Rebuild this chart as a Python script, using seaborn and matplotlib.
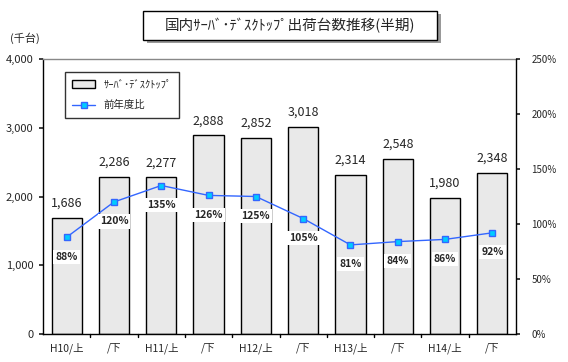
import matplotlib
matplotlib.use("Agg")
import matplotlib.pyplot as plt
import numpy as np
import pandas as pd
import seaborn as sns
from matplotlib.lines import Line2D
from matplotlib.patches import Patch, Rectangle

# データ
periods = ['H10/上', '/下', 'H11/上', '/下', 'H12/上', '/下', 'H13/上', '/下', 'H14/上', '/下']
shipments = [1686, 2286, 2277, 2888, 2852, 3018, 2314, 2548, 1980, 2348]
yoy_pct = [88, 120, 135, 126, 125, 105, 81, 84, 86, 92]

title_text = '国内ｻｰﾊﾞ･ﾃﾞｽｸﾄｯﾌﾟ出荷台数推移(半期)'
bar_label = 'ｻｰﾊﾞ･ﾃﾞｽｸﾄｯﾌﾟ'
line_label = '前年度比'

sns.set_theme(style='white')
plt.rcParams['font.family'] = ['Noto Sans CJK JP', 'DejaVu Sans']

df = pd.DataFrame({'period': range(len(periods)), 'shipments': shipments, 'yoy': yoy_pct})

fig = plt.figure(figsize=(5.68, 3.62), dpi=100)
ax = fig.add_axes([43 / 568, 28 / 362, 473 / 568, 275 / 362])

sns.barplot(data=df, x='period', y='shipments', ax=ax, color='#e9e9e9',
            edgecolor='black', linewidth=1, width=0.64, saturation=1)
ax.set_ylim(0, 4000)
ax.set_xlim(-0.5, len(periods) - 0.5)
ax.set_yticks([0, 1000, 2000, 3000, 4000])
ax.set_yticklabels(['0', '1,000', '2,000', '3,000', '4,000'], fontsize=8)
ax.set_xticks(range(len(periods)))
ax.set_xticklabels(periods, fontsize=7.5)
ax.set_xlabel('')
ax.set_ylabel('')
ax.tick_params(axis='x', length=0, pad=6)
ax.tick_params(axis='y', length=3, direction='out', left=True, pad=4)
for sp in ['top', 'left', 'bottom']:
    ax.spines[sp].set_color('black')
    ax.spines[sp].set_linewidth(1)
ax.spines['top'].set_color('#888888')
ax.spines['right'].set_visible(False)
# 区切り目盛
for b in np.arange(0.5, len(periods) - 0.5, 1):
    ax.plot([b, b], [0, -40], color='black', lw=1, clip_on=False)

for i, v in enumerate(shipments):
    ax.text(i, v + 120, f'{v:,}', ha='center', va='bottom', fontsize=9)

fig.text(25 / 568, 1 - 38 / 362, '(千台)', ha='center', va='center', fontsize=8)

ax2 = ax.twinx()
sns.lineplot(data=df, x='period', y='yoy', ax=ax2, color='#3366ff', lw=1,
             marker='s', markersize=5, markerfacecolor='#00ccff',
             markeredgecolor='#3366ff', markeredgewidth=1)
ax2.set_ylim(0, 250)
ax2.set_yticks([0, 50, 100, 150, 200, 250])
ax2.set_yticklabels(['0%', '50%', '100%', '150%', '200%', '250%'], fontsize=7)
ax2.set_ylabel('')
ax2.tick_params(axis='y', length=3, direction='out', right=True, pad=8)
ax2.spines['right'].set_color('black')
ax2.spines['right'].set_linewidth(1)
for sp in ['top', 'left', 'bottom']:
    ax2.spines[sp].set_visible(False)

for i, v in enumerate(yoy_pct):
    ax2.annotate(f'{v}%', (i, v), xytext=(0, -14), textcoords='offset points',
                 ha='center', va='center', fontsize=7.5, fontweight='bold',
                 bbox=dict(boxstyle='square,pad=0.2', fc='white', ec='none'))

handles = [Patch(facecolor='#e9e9e9', edgecolor='black', label=bar_label),
           Line2D([0], [0], color='#3366ff', lw=1, marker='s', markersize=5,
                  markerfacecolor='#00ccff', markeredgecolor='#3366ff', label=line_label)]
leg = ax2.legend(handles=handles, loc='upper left', bbox_to_anchor=(0.035, 0.97),
                 fontsize=7.5, frameon=True, fancybox=False, edgecolor='black',
                 borderpad=0.7, labelspacing=1.0, handlelength=2.2)
leg.get_frame().set_linewidth(1)

# タイトル枠
fig.patches.append(Rectangle((147 / 568, 1 - 43 / 362), 294 / 568, 29 / 362,
                             transform=fig.transFigure, fc='#999999', ec='none'))
fig.patches.append(Rectangle((143 / 568, 1 - 40 / 362), 294 / 568, 29 / 362,
                             transform=fig.transFigure, fc='white', ec='black', lw=1))
fig.text(290 / 568, 1 - 25.5 / 362, title_text, ha='center', va='center', fontsize=10.5)

fig.savefig('out.png', dpi=100, facecolor='white')
